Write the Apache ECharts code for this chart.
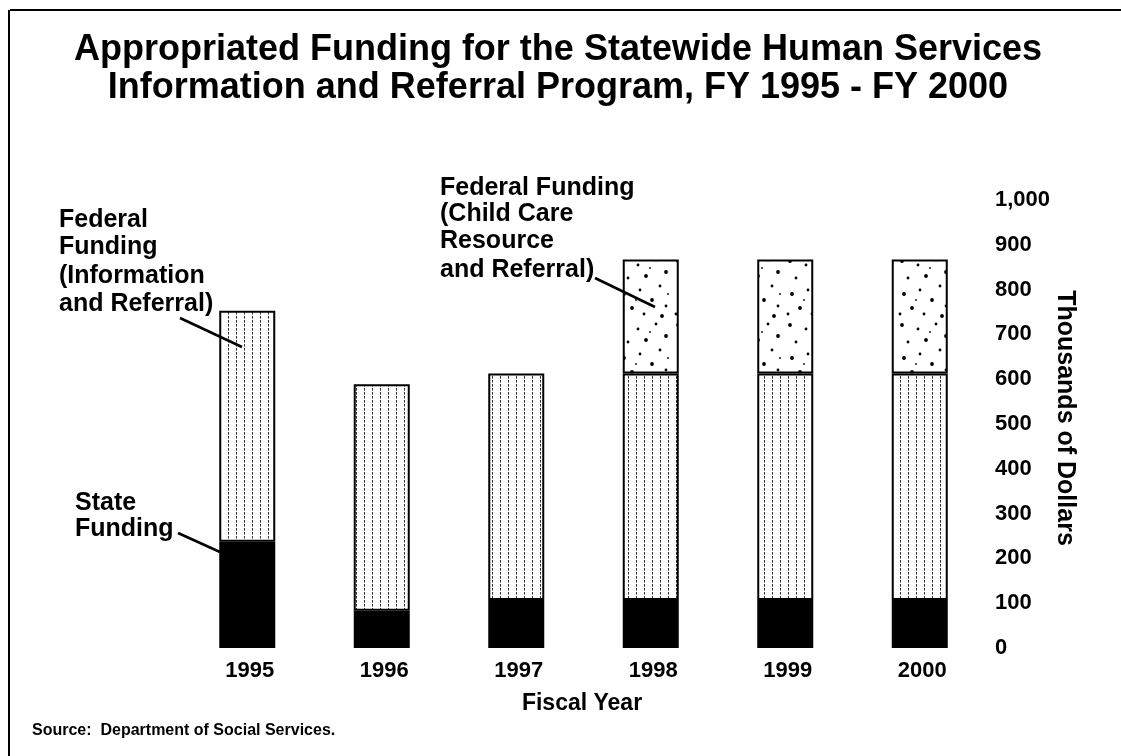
<!DOCTYPE html>
<html><head><meta charset="utf-8">
<script src="https://cdn.jsdelivr.net/npm/echarts@6/dist/echarts.min.js"></script>
<style>html,body{margin:0;padding:0;background:#fff}#c{width:1121px;height:756px}</style>
</head><body><div id="c"></div>
<script>
// ---- data ----
const years = ['1995', '1996', '1997', '1998', '1999', '2000'];
const stateFunding = [237, 83, 107, 107, 107, 107];
const federalIR = [516, 506, 506, 506, 506, 506];
const federalCCRR = [null, null, null, 254, 254, 254];
const yTickValues = [0, 100, 200, 300, 400, 500, 600, 700, 800, 900, 1000];

// ---- patterns (styling only) ----
function linePattern() {
  const c = document.createElement('canvas'); c.width = 8; c.height = 4;
  const g = c.getContext('2d');
  g.fillStyle = '#fff'; g.fillRect(0, 0, 8, 4);
  g.fillStyle = '#333'; g.fillRect(4, 0, 1, 2);
  g.fillStyle = '#888'; g.fillRect(4, 2, 1, 1);
  return c;
}
function dotPattern() {
  const c = document.createElement('canvas'); c.width = 56; c.height = 64;
  const g = c.getContext('2d');
  g.fillStyle = '#fff'; g.fillRect(0, 0, 56, 64);
  g.fillStyle = '#000';
  const specks = [[6,5,3],[22,9,2],[40,4,2],[50,16,3],[12,22,2],[30,20,3],[44,30,2],[8,38,3],[24,34,2],[36,44,3],[50,50,2],[16,52,3],[4,58,2],[28,58,2],[46,60,3],[20,44,1],[34,12,1],[52,38,1]];
  specks.forEach(s => { g.beginPath(); g.arc(s[0], s[1], s[2] / 2 + 0.4, 0, Math.PI * 2); g.fill(); });
  return c;
}

const FONT = '"Liberation Sans", Arial, sans-serif';
const chart = echarts.init(document.getElementById('c'), null, { renderer: 'canvas' });

function txt(text, x, y, size, align) {
  return {
    type: 'text', x: x, y: y, z: 100,
    style: { text: text, fill: '#000', font: 'bold ' + size + 'px ' + FONT,
             textAlign: align || 'left', textVerticalAlign: 'middle' }
  };
}
function ln(x1, y1, x2, y2, w) {
  return { type: 'line', z: 100, shape: { x1: x1, y1: y1, x2: x2, y2: y2 },
           style: { stroke: '#000', lineWidth: w || 2.5 } };
}

const option = {
  backgroundColor: '#fff',
  animation: false,
  grid: { left: 180, right: 134, top: 200, bottom: 108, containLabel: false, outerBoundsMode: 'none' },
  xAxis: {
    type: 'category', data: years,
    axisLine: { show: false }, axisTick: { show: false }, splitLine: { show: false },
    axisLabel: { margin: 12, color: '#000', fontSize: 22, fontWeight: 'bold', fontFamily: FONT, padding: [0, 0, 0, 5] }
  },
  yAxis: {
    type: 'value', position: 'right',
    min: yTickValues[0], max: yTickValues[yTickValues.length - 1], interval: yTickValues[1] - yTickValues[0],
    axisLine: { show: false }, axisTick: { show: false }, splitLine: { show: false },
    axisLabel: { margin: 8, align: 'left', color: '#000', fontSize: 22, fontWeight: 'bold', fontFamily: FONT,
                 formatter: v => v.toLocaleString('en-US') }
  },
  series: [
    { name: 'State Funding', type: 'bar', stack: 'f', barWidth: 56, data: stateFunding,
      itemStyle: { color: '#000', borderColor: '#000', borderWidth: 2 } },
    { name: 'Federal Funding (Information and Referral)', type: 'bar', stack: 'f', barWidth: 56, data: federalIR,
      itemStyle: { color: { image: linePattern(), repeat: 'repeat' }, borderColor: '#000', borderWidth: 2 } },
    { name: 'Federal Funding (Child Care Resource and Referral)', type: 'bar', stack: 'f', barWidth: 56, data: federalCCRR,
      itemStyle: { color: { image: dotPattern(), repeat: 'repeat' }, borderColor: '#000', borderWidth: 2 } }
  ],
  graphic: [
    ln(10, 10, 1121, 10, 2), ln(9, 10, 9, 756, 2),
    txt('Appropriated Funding for the Statewide Human Services', 558, 50, 36, 'center'),
    txt('Information and Referral Program, FY 1995 - FY 2000', 558, 88, 36, 'center'),
    txt('Federal', 59, 220, 25), txt('Funding', 59, 247, 25),
    txt('(Information', 59, 276, 25), txt('and Referral)', 59, 304, 25),
    ln(180, 318, 242, 347),
    txt('State', 75, 503, 25), txt('Funding', 75, 529, 25),
    ln(178, 533, 220, 552),
    txt('Federal Funding', 440, 188, 25), txt('(Child Care', 440, 214, 25),
    txt('Resource', 440, 241, 25), txt('and Referral)', 440, 270, 25),
    ln(595, 278, 655, 307),
    { type: 'text', x: 1065, y: 418, z: 100, rotation: -Math.PI / 2,
      style: { text: 'Thousands of Dollars', fill: '#000', font: 'bold 25px ' + FONT,
               textAlign: 'center', textVerticalAlign: 'middle' } },
    txt('Fiscal Year', 582, 704, 23, 'center'),
    txt('Source:  Department of Social Services.', 32, 731, 16)
  ]
};
chart.setOption(option);
</script></body></html>
